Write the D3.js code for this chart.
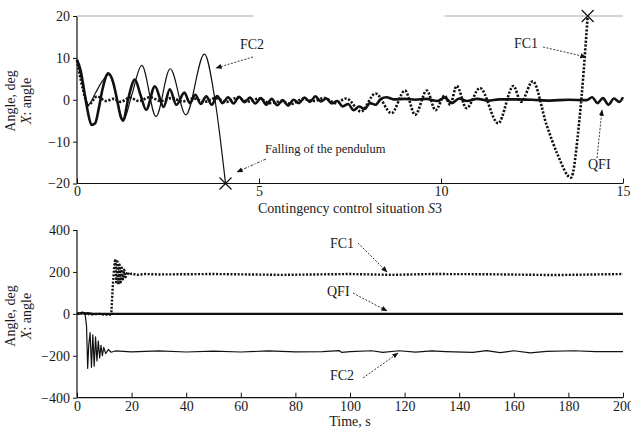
<!DOCTYPE html>
<html><head><meta charset="utf-8">
<script src="https://cdn.jsdelivr.net/npm/d3@7"></script>
<style>
body{margin:0;background:#fff}
text{font-family:"Liberation Serif","Times New Roman",serif;fill:#1a1a1a}
</style>
</head><body><svg id="c" width="631" height="428"></svg>
<script>
// ---------- data ----------
const topXTicks=[0,5,10,15];
const topYTicks=[-20,-10,0,10,20];
const botXTicks=[0,20,40,60,80,100,120,140,160,180,200];
const botYTicks=[-400,-200,0,200,400];

// Top panel (contingency situation S3), time in s, angle in deg
const topQFI=[[0,9.5],[0.1,7],[0.2,2],[0.3,-3],[0.4,-6],[0.5,-5.6],[0.6,-2],[0.7,2.5],[0.86,6.3],[1.0,4],[1.1,0],[1.2,-4],[1.27,-5],[1.4,0],[1.59,4.8],[1.75,1],[1.9,-2.4],[2.14,3.2],[2.38,-1.7],[2.55,2.5],[2.73,-1.2],[2.95,1.7],[3.1,-0.8],[3.25,1.2],[3.4,-1.0],[3.55,0.8],[3.7,-1.2],[3.85,0.9],[4.0,-0.8],[4.15,0.6],[4.3,-0.9],[4.45,0.7],[4.6,-0.6],[4.75,0.5],[4.9,-0.9],[5.05,0.4],[5.2,-1.2],[5.35,0.2],[5.5,-1.3],[5.65,-0.1],[5.8,-1.4],[5.95,0],[6.1,-0.8],[6.25,0.5],[6.4,-0.5],[6.55,0.8],[6.7,-0.4],[6.85,0.3],[7.0,-0.9],[7.15,-0.3],[7.3,-1.6],[7.45,-1.0],[7.6,-2.5],[7.75,-1.6],[7.9,-2.2],[8.05,-0.8],[8.2,-1.2],[8.35,0.2],[8.5,0.6],[8.7,0.1],[9.0,0.2],[9.3,0],[9.6,0.2],[9.9,-0.3],[10.1,0.5],[10.3,-0.8],[10.5,0.3],[10.7,-0.3],[11.0,0.2],[11.3,-0.2],[11.6,0.1],[12.0,0.1],[12.5,0],[13.0,-0.2],[13.5,0],[14.0,-0.1],[14.15,0.6],[14.3,-0.8],[14.45,0.4],[14.6,-1.2],[14.75,0.3],[14.9,-0.5],[15,0.6]];
const topFC1=[[0,9.5],[0.15,3],[0.31,-1.3],[0.55,0.8],[0.8,-0.3],[1.0,0.2],[1.2,-0.5],[1.45,0.5],[1.7,-0.3],[2.0,0.6],[2.3,-0.3],[2.6,0.4],[2.9,-0.4],[3.2,0.3],[3.5,-0.5],[3.8,0.4],[4.1,-0.5],[4.4,0.5],[4.7,-0.4],[5.0,0.3],[5.3,-0.8],[5.6,-0.4],[5.9,-1.0],[6.2,0.2],[6.5,-0.3],[6.8,0.4],[7.1,-0.8],[7.4,0.3],[7.8,-2.8],[8.2,1.5],[8.64,-3.2],[9.01,2.2],[9.29,-3.6],[9.61,2.2],[9.85,-2.5],[10.1,1.0],[10.25,-1.2],[10.43,3.3],[10.7,-2.0],[11.07,2.8],[11.57,-5.6],[11.99,3.3],[12.2,-0.5],[12.52,4.4],[12.9,-6],[13.2,-13],[13.57,-18.6],[13.8,-5],[14.03,20]];
const topFC2=[[0,9.5],[0.15,4],[0.31,-1.2],[0.5,1.5],[0.7,4.5],[0.88,6.0],[1.05,2],[1.27,-5],[1.5,1],[1.78,8.2],[2.17,-4.0],[2.56,7.4],[2.99,-3.6],[3.5,10.9],[3.79,0],[4.08,-20]];
const topFalls=[[4.08,-20],[14.03,20]];
const topFrameSegments=[[0,4.84],[10.1,15]];

// Bottom panel, time in s, angle in deg
const botQFI=[[0,5],[1,1],[2,6],[3,0],[4,3],[6,0],[200,0]];
const botFC1=[[0,0],[3,3],[5,-3],[8,0],[10,-3],[12,-5],[12.6,10],[13.1,130],[13.6,220],[14.0,262],[14.4,150],[14.8,250],[15.2,140],[15.6,235],[16.0,150],[16.4,220],[16.8,165],[17.3,210],[17.8,175],[18.4,200],[19.2,185],[20,192],[22,186],[25,190],[30,188],[50,190],[75,186],[100,190],[115,186],[130,190],[150,189],[175,185],[200,190]];
const botFC2=[[0,0],[2,5],[3,-5],[3.5,-60],[3.9,-260],[4.3,-150],[4.8,-90],[5.3,-255],[5.8,-100],[6.3,-250],[6.8,-110],[7.3,-225],[7.8,-130],[8.3,-210],[8.8,-150],[9.3,-200],[9.8,-160],[10.5,-190],[11.5,-170],[12.5,-183],[14,-177],[20,-181],[30,-177],[40,-182],[50,-178],[60,-182],[70,-177],[80,-181],[90,-180],[96,-175],[97,-184],[100,-180],[108,-176],[112,-184],[118,-176],[124,-183],[130,-177],[135,-180],[145,-184],[150,-175],[155,-185],[160,-176],[166,-186],[172,-179],[182,-176],[190,-180],[200,-180]];

// ---------- drawing ----------
const svg=d3.select("#c");
const defs=svg.append("defs");
defs.append("marker").attr("id","ah").attr("viewBox","0 0 10 10").attr("refX",9).attr("refY",5)
  .attr("markerWidth",7).attr("markerHeight",7).attr("orient","auto-start-reverse")
  .append("path").attr("d","M0,1 L10,5 L0,9 Z").attr("fill","#111");

function panel(o){
  const g=svg.append("g");
  const x=d3.scaleLinear().domain(o.xd).range([77,623]);
  const y=d3.scaleLinear().domain(o.yd).range(o.yr);
  const xa=d3.axisBottom(x).tickValues(o.xt).tickSize(-5).tickPadding(3).tickFormat(d3.format("d"));
  const ya=d3.axisLeft(y).tickValues(o.yt).tickSize(4).tickPadding(3).tickFormat(d3.format("d"));
  const gx=g.append("g").attr("transform",`translate(0,${o.yr[0]})`).call(xa);
  const gy=g.append("g").attr("transform","translate(77,0)").call(ya);
  [gx,gy].forEach(a=>{a.attr("font-family",null).attr("font-size",null);
    a.select(".domain").attr("stroke","#111").attr("stroke-width",1.2);
    a.selectAll(".tick line").attr("stroke","#111").attr("stroke-width",1);
    a.selectAll("text").attr("font-size",14).attr("fill","#1a1a1a");});
  gy.select(".domain").attr("d",`M0,${o.yr[0]}V${o.yr[1]}`);
  gx.select(".domain").attr("d",`M77,0H623`);
  const yl=g.append("text").attr("transform",`translate(${o.ylx},${o.ylc}) rotate(-90)`).attr("text-anchor","middle").attr("font-size",14);
  yl.text("Angle, deg");
  const yl2=g.append("text").attr("transform",`translate(${o.ylx+16},${o.ylc}) rotate(-90)`).attr("text-anchor","middle").attr("font-size",14);
  yl2.append("tspan").attr("font-style","italic").text("X");
  yl2.append("tspan").text(": angle");
  return {g,x,y};
}

function line(p,data,opt){
  p.g.append("path").datum(data)
    .attr("d",d3.line().x(d=>p.x(d[0])).y(d=>p.y(d[1])).curve(opt.curve||d3.curveLinear))
    .attr("fill","none").attr("stroke","#111").attr("stroke-width",opt.w)
    .attr("stroke-dasharray",opt.dash||null).attr("stroke-linejoin","round");
}
function note(p,txt,tx,ty,ax0,ay0,ax1,ay1,fs,dash){
  p.g.append("text").attr("x",tx).attr("y",ty).attr("font-size",fs||14).text(txt);
  p.g.append("line").attr("x1",ax0).attr("y1",ay0).attr("x2",ax1).attr("y2",ay1)
    .attr("stroke","#222").attr("stroke-width",0.9).attr("stroke-dasharray",dash||"2,1.5")
    .attr("marker-end","url(#ah)");
}

// ----- top panel -----
const T=panel({xd:[0,15],yd:[-20,20],yr:[183.5,16],xt:topXTicks,yt:topYTicks,ylx:15,ylc:101});
topFrameSegments.forEach(s=>T.g.append("line").attr("x1",T.x(s[0])).attr("x2",T.x(s[1]))
  .attr("y1",T.y(20)).attr("y2",T.y(20)).attr("stroke","#c4c4c4").attr("stroke-width",1.6));
line(T,topFC1,{w:2.6,dash:"2.2,1.6",curve:d3.curveMonotoneX});
line(T,topFC2,{w:1.2,curve:d3.curveMonotoneX});
line(T,topQFI,{w:2.6,curve:d3.curveMonotoneX});
topFalls.forEach(d=>{const cx=T.x(d[0]),cy=T.y(d[1]);
  T.g.append("path").attr("d",`M${cx-6},${cy-6}L${cx+6},${cy+6}M${cx-6},${cy+6}L${cx+6},${cy-6}`)
   .attr("stroke","#111").attr("stroke-width",1.2);});
T.g.append("text").attr("x",350).attr("y",213).attr("text-anchor","middle").attr("font-size",14)
  .call(t=>{t.append("tspan").text("Contingency control situation ");t.append("tspan").attr("font-style","italic").text("S");t.append("tspan").text("3");});
note(T,"FC2",240,49,253,57,216,68);
note(T,"Falling of the pendulum",265,153,266,159,237,172,12.5,"3,1.5,1,1.5");
note(T,"FC1",514,48,543,47,586,57);
note(T,"QFI",588,169,597,158,602,110);

// ----- bottom panel -----
const B=panel({xd:[0,200],yd:[-400,400],yr:[397.7,230],xt:botXTicks,yt:botYTicks,ylx:15,ylc:316});
line(B,botFC2,{w:1.2});
line(B,botFC1,{w:2.4,dash:"2,1.6"});
line(B,botQFI,{w:2.4});
B.g.append("text").attr("x",350).attr("y",426).attr("text-anchor","middle").attr("font-size",14).text("Time, s");
note(B,"FC1",330,248,358,243,387,272);
note(B,"QFI",327,296,353,293,387,311);
note(B,"FC2",330,380,363,378,398,353);
</script></body></html>
